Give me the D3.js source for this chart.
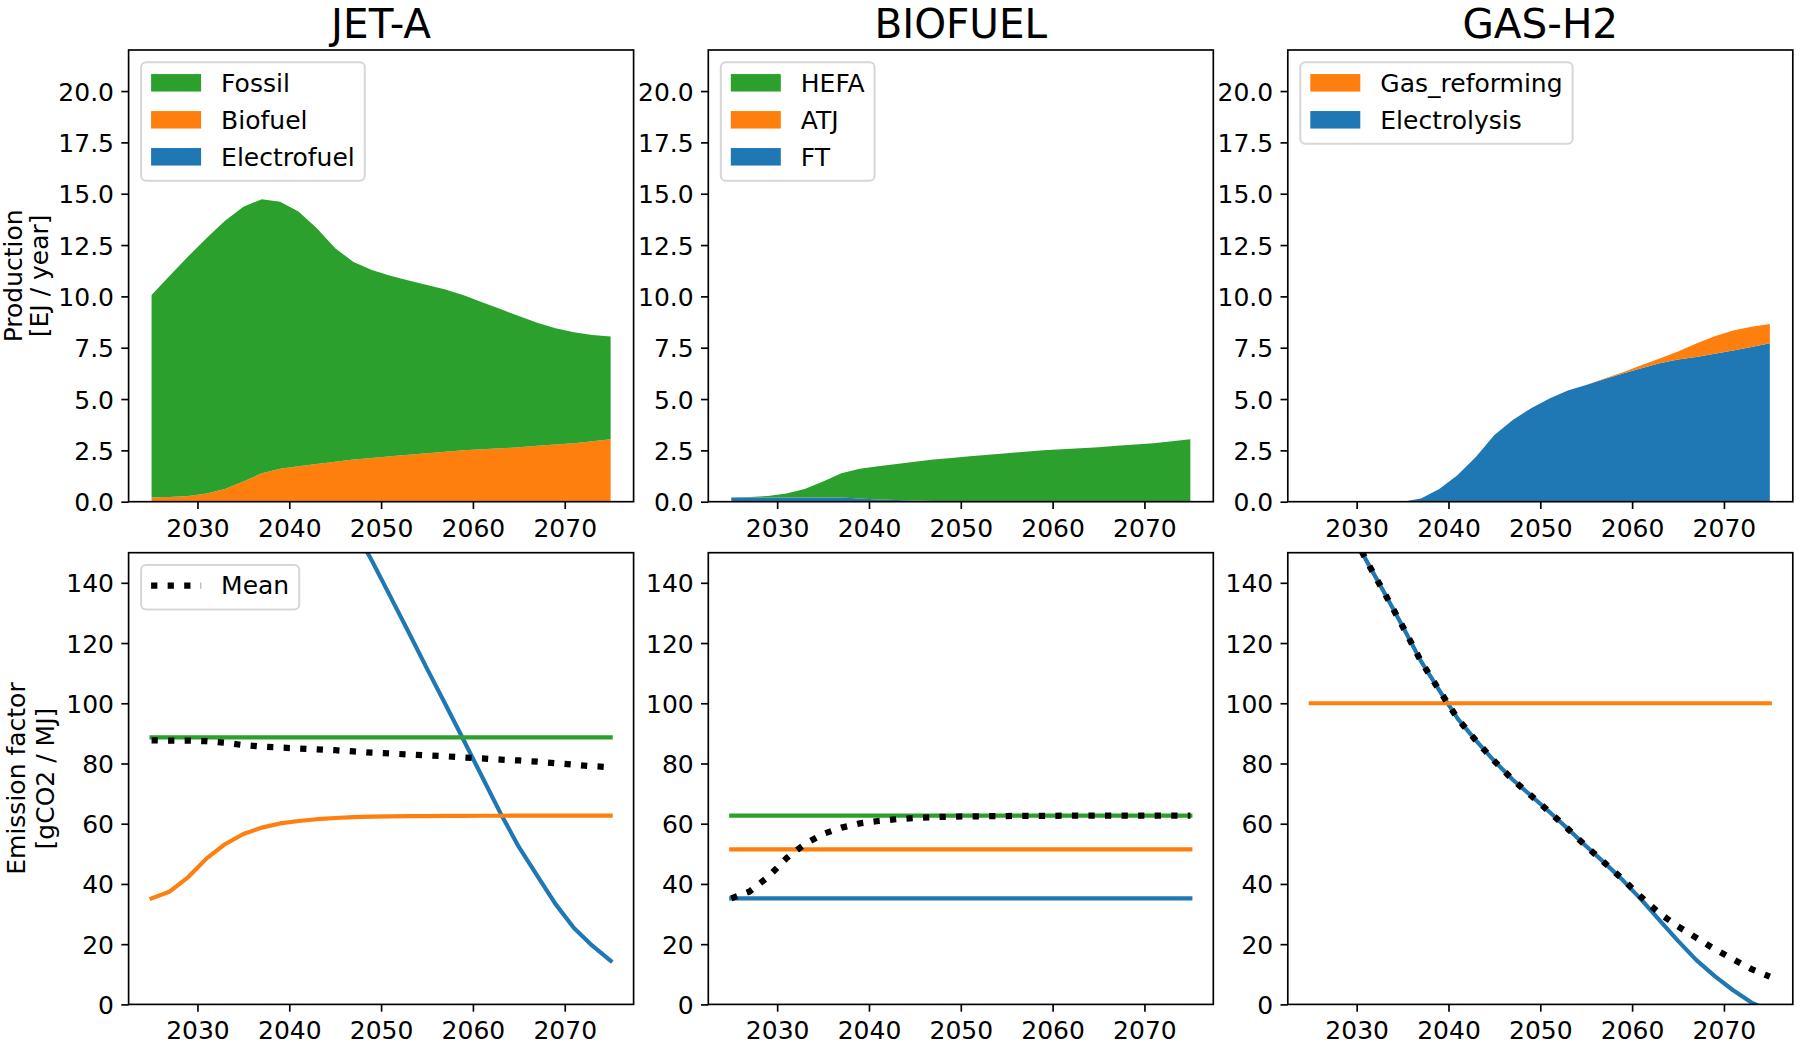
<!DOCTYPE html>
<html>
<head>
<meta charset="utf-8">
<script src="https://cdn.jsdelivr.net/npm/d3@7"></script>
<style>
  body { margin: 0; background: #fff; }
  svg { display: block; font-family: "DejaVu Sans", sans-serif; }
</style>
</head>
<body>
<svg id="fig" width="1800" height="1050"></svg>
<script>
// ---- data (every 2 years) ----
const years = [2025, 2027, 2029, 2031, 2033, 2035, 2037, 2039, 2041, 2043, 2045, 2047, 2049,
               2051, 2053, 2055, 2057, 2059, 2061, 2063, 2065, 2067, 2069, 2071, 2073, 2075];

// production [EJ / year]
const jetFossil      = [9.87, 10.79, 11.67, 12.44, 13.06, 13.39, 13.35, 13.01, 12.40, 11.48, 10.39, 9.63, 9.15,
                        8.79, 8.48, 8.19, 7.90, 7.55, 7.17, 6.78, 6.40, 6.00, 5.67, 5.40, 5.18, 5.00];
const jetBiofuel     = [0.20, 0.23, 0.28, 0.40, 0.62, 0.98, 1.38, 1.60, 1.73, 1.84, 1.95, 2.05, 2.13,
                        2.21, 2.29, 2.36, 2.43, 2.50, 2.55, 2.60, 2.65, 2.72, 2.78, 2.85, 2.94, 3.04];
const jetElectrofuel = [0, 0, 0, 0, 0, 0, 0, 0, 0, 0, 0, 0, 0,
                        0, 0, 0, 0, 0, 0, 0, 0, 0, 0, 0, 0, 0];

const bioHEFA = [0.00, 0.03, 0.08, 0.20, 0.42, 0.78, 1.18, 1.45, 1.62, 1.76, 1.89, 2.01, 2.11,
                 2.20, 2.29, 2.36, 2.43, 2.50, 2.55, 2.60, 2.65, 2.72, 2.78, 2.85, 2.94, 3.04];
const bioATJ  = [0, 0, 0, 0, 0, 0, 0, 0, 0, 0, 0, 0, 0,
                 0, 0, 0, 0, 0, 0, 0, 0, 0, 0, 0, 0, 0];
const bioFT   = [0.20, 0.20, 0.20, 0.20, 0.20, 0.20, 0.20, 0.15, 0.11, 0.08, 0.06, 0.04, 0.02,
                 0.01, 0, 0, 0, 0, 0, 0, 0, 0, 0, 0, 0, 0];

const h2GasReforming = [0, 0, 0, 0, 0, 0, 0, 0, 0, 0, 0, 0, 0,
                        0, 0, 0, 0.02, 0.06, 0.14, 0.24, 0.40, 0.65, 0.86, 0.97, 0.98, 0.93];
const h2Electrolysis = [0, 0, 0, 0, 0, 0, 0.16, 0.62, 1.30, 2.19, 3.25, 3.98, 4.55,
                        5.03, 5.41, 5.68, 5.98, 6.24, 6.50, 6.74, 6.92, 7.05, 7.20, 7.37, 7.54, 7.72];

// emission factors [gCO2 / MJ]
const jetFossilEF      = [88.7, 88.7, 88.7, 88.7, 88.7, 88.7, 88.7, 88.7, 88.7, 88.7, 88.7, 88.7, 88.7,
                          88.7, 88.7, 88.7, 88.7, 88.7, 88.7, 88.7, 88.7, 88.7, 88.7, 88.7, 88.7, 88.7];
const jetElectrofuelEF = [312, 296, 280, 265, 250, 236, 222, 208, 195, 182, 170, 158.5, 147.3,
                          135.5, 123.6, 111.5, 99.7, 87.7, 75.6, 63.5, 52.3, 42.8, 33.3, 25.4, 19.5, 14.5];
const jetMeanEF        = [87.7, 87.6, 87.6, 87.4, 86.9, 86.1, 85.6, 85.3, 85.0, 84.7, 84.4, 84.0, 83.6,
                          83.3, 83.0, 82.7, 82.4, 82.0, 81.7, 81.3, 81.0, 80.6, 80.1, 79.6, 79.1, 78.8];
// mean of the biofuel mix, also the "Biofuel" line of JET-A
const bioMeanEF        = [35.2, 37.5, 42.3, 48.5, 53.2, 56.6, 58.7, 60.1, 60.9, 61.5, 61.9, 62.2, 62.35,
                          62.45, 62.5, 62.55, 62.6, 62.6, 62.65, 62.65, 62.7, 62.7, 62.7, 62.7, 62.7, 62.7];
const bioHEFAEF = [62.7, 62.7, 62.7, 62.7, 62.7, 62.7, 62.7, 62.7, 62.7, 62.7, 62.7, 62.7, 62.7,
                   62.7, 62.7, 62.7, 62.7, 62.7, 62.7, 62.7, 62.7, 62.7, 62.7, 62.7, 62.7, 62.7];
const bioATJEF  = [51.5, 51.5, 51.5, 51.5, 51.5, 51.5, 51.5, 51.5, 51.5, 51.5, 51.5, 51.5, 51.5,
                   51.5, 51.5, 51.5, 51.5, 51.5, 51.5, 51.5, 51.5, 51.5, 51.5, 51.5, 51.5, 51.5];
const bioFTEF   = [35.2, 35.2, 35.2, 35.2, 35.2, 35.2, 35.2, 35.2, 35.2, 35.2, 35.2, 35.2, 35.2,
                   35.2, 35.2, 35.2, 35.2, 35.2, 35.2, 35.2, 35.2, 35.2, 35.2, 35.2, 35.2, 35.2];

const h2GasEF  = [100, 100, 100, 100, 100, 100, 100, 100, 100, 100, 100, 100, 100,
                  100, 100, 100, 100, 100, 100, 100, 100, 100, 100, 100, 100, 100];
const h2ElecEF = [185, 172, 160, 147.7, 136.8, 125.6, 114.0, 104.3, 94.9, 87.6, 80.8, 74.6, 69.3,
                  63.9, 58.3, 52.5, 47.0, 41.2, 34.8, 27.9, 21.1, 14.7, 9.4, 4.7, 0.6, -2.0];
const h2MeanEF = [185, 172, 160, 147.7, 136.8, 125.6, 114.0, 104.3, 94.9, 87.6, 80.8, 74.6, 69.3,
                  63.9, 58.3, 52.5, 47.0, 41.5, 35.6, 30.2, 25.9, 22.1, 18.3, 15.0, 11.7, 9.2];

const xTicks    = [2030, 2040, 2050, 2060, 2070];
const prodTicks = [0, 2.5, 5, 7.5, 10, 12.5, 15, 17.5, 20];
const efTicks   = [0, 20, 40, 60, 80, 100, 120, 140];

const C0 = '#1f77b4', C1 = '#ff7f0e', C2 = '#2ca02c';

// stack order is bottom -> top, legend lists top -> bottom
const prodPanels = [
  { title: 'JET-A',   keys: ['Electrofuel', 'Biofuel', 'Fossil'],
    vals: [jetElectrofuel, jetBiofuel, jetFossil], colors: [C0, C1, C2] },
  { title: 'BIOFUEL', keys: ['FT', 'ATJ', 'HEFA'],
    vals: [bioFT, bioATJ, bioHEFA], colors: [C0, C1, C2] },
  { title: 'GAS-H2',  keys: ['Electrolysis', 'Gas_reforming'],
    vals: [h2Electrolysis, h2GasReforming], colors: [C0, C1] },
];
const efPanels = [
  { lines: [jetElectrofuelEF, bioMeanEF, jetFossilEF], colors: [C0, C1, C2], mean: jetMeanEF },
  { lines: [bioFTEF, bioATJEF, bioHEFAEF], colors: [C0, C1, C2], mean: bioMeanEF },
  { lines: [h2ElecEF, h2GasEF], colors: [C0, C1], mean: h2MeanEF },
];

// ---- layout ----
const W = 505, H = 451.7;
const colX = [128.6, 708.3, 1287.8];
const rowY = [50, 552.7];
const FS = 25;           // 12pt @150dpi
const LW = 1.67;         // 0.8pt spines / ticks

const x = d3.scaleLinear().domain([2022.5, 2077.5]).range([0, W]);
const yProd = d3.scaleLinear().domain([0, 22]).range([H, 0]);
const yEF = d3.scaleLinear().domain([0, 150]).range([H, 0]);

const fig = d3.select('#fig');
const defs = fig.append('defs');

function styleAxis(sel) {
  sel.select('.domain').remove();
  sel.attr('font-family', null).attr('font-size', null);
  sel.selectAll('line').attr('stroke', '#000').attr('stroke-width', LW);
  sel.selectAll('text').attr('fill', '#000').style('font-size', FS + 'px');
}

function addAxes(g, yScale, yTicks, fmt) {
  g.append('g')
    .attr('transform', `translate(0,${H})`)
    .call(d3.axisBottom(x).tickValues(xTicks).tickSize(7.3).tickPadding(7.3).tickFormat(d3.format('d')))
    .call(styleAxis)
    .selectAll('text').attr('dy', '0.82em');
  g.append('g')
    .call(d3.axisLeft(yScale).tickValues(yTicks).tickSize(7.3).tickPadding(7.3).tickFormat(fmt))
    .call(styleAxis)
    .selectAll('text').attr('dy', '0.36em');
  g.append('rect')
    .attr('width', W).attr('height', H)
    .attr('fill', 'none').attr('stroke', '#000').attr('stroke-width', LW);
}

function addLegend(g, entries) {
  const lg = g.append('g').attr('transform', 'translate(12.5,12.3)');
  const box = lg.append('rect');
  let maxW = 0;
  entries.forEach((e, i) => {
    const cy = 20.5 + i * 37;
    if (e.type === 'patch') {
      lg.append('rect')
        .attr('x', 10).attr('y', cy - 8.75).attr('width', 50).attr('height', 17.5)
        .attr('fill', e.color);
    } else {
      lg.append('line')
        .attr('x1', 10).attr('x2', 60).attr('y1', cy).attr('y2', cy)
        .attr('stroke', '#000').attr('stroke-width', 6.25)
        .attr('stroke-dasharray', '6.25 10.3');
    }
    const t = lg.append('text')
      .attr('x', 80).attr('y', cy + 8.9)
      .style('font-size', FS + 'px').text(e.label);
    maxW = Math.max(maxW, t.node().getComputedTextLength());
  });
  const n = entries.length;
  box.attr('width', 80 + maxW + 10)
    .attr('height', 20 + n * 24.5 + (n - 1) * 12.5)
    .attr('rx', 5).attr('ry', 5)
    .attr('fill', 'rgba(255,255,255,0.8)')
    .attr('stroke', 'rgba(204,204,204,0.8)').attr('stroke-width', 2);
}

function clipFor(id) {
  defs.append('clipPath').attr('id', id)
    .append('rect').attr('width', W).attr('height', H);
  return `url(#${id})`;
}

// ---- top row: stacked production ----
prodPanels.forEach((p, c) => {
  const g = fig.append('g').attr('transform', `translate(${colX[c]},${rowY[0]})`);
  const rows = years.map((yr, i) => {
    const r = { year: yr };
    p.keys.forEach((k, j) => { r[k] = p.vals[j][i]; });
    return r;
  });
  const stacked = d3.stack().keys(p.keys)(rows);
  const area = d3.area()
    .x(d => x(d.data.year))
    .y0(d => yProd(d[0]))
    .y1(d => yProd(d[1]));
  const plot = g.append('g').attr('clip-path', clipFor('cp' + c));
  stacked.forEach((s, j) => {
    plot.append('path').attr('d', area(s)).attr('fill', p.colors[j]);
  });

  addLegend(g, p.keys.map((k, j) => ({ label: k, color: p.colors[j], type: 'patch' })).reverse());
  addAxes(g, yProd, prodTicks, d3.format('.1f'));

  fig.append('text')
    .attr('x', colX[c] + W / 2).attr('y', 37.5)
    .attr('text-anchor', 'middle')
    .style('font-size', '40.5px')
    .text(p.title);
});

// ---- bottom row: emission factors ----
efPanels.forEach((p, c) => {
  const g = fig.append('g').attr('transform', `translate(${colX[c]},${rowY[1]})`);
  const plot = g.append('g').attr('clip-path', clipFor('ce' + c));
  const line = d3.line().x(d => x(d[0])).y(d => yEF(d[1]));
  p.lines.forEach((vals, j) => {
    plot.append('path')
      .attr('d', line(years.map((yr, i) => [yr, vals[i]])))
      .attr('fill', 'none').attr('stroke', p.colors[j]).attr('stroke-width', 4.17)
      .attr('stroke-linecap', 'square').attr('stroke-linejoin', 'round');
  });
  plot.append('path')
    .attr('d', line(years.map((yr, i) => [yr, p.mean[i]])))
    .attr('fill', 'none').attr('stroke', '#000').attr('stroke-width', 6.25)
    .attr('stroke-dasharray', '6.25 10.3').attr('stroke-linejoin', 'round');

  if (c === 0) addLegend(g, [{ label: 'Mean', type: 'dotted' }]);
  addAxes(g, yEF, efTicks, d3.format('d'));
});

// ---- y labels ----
function yLabel(cy, lines, bases) {
  const t = fig.append('text')
    .attr('transform', `translate(0,${cy}) rotate(-90)`)
    .attr('text-anchor', 'middle')
    .style('font-size', FS + 'px');
  lines.forEach((s, i) => t.append('tspan').attr('x', 0).attr('y', bases[i]).text(s));
}
yLabel(rowY[0] + H / 2, ['Production', '[EJ / year]'], [22, 48]);
yLabel(rowY[1] + H / 2, ['Emission factor', '[gCO2 / MJ]'], [25, 54]);
</script>
</body>
</html>
